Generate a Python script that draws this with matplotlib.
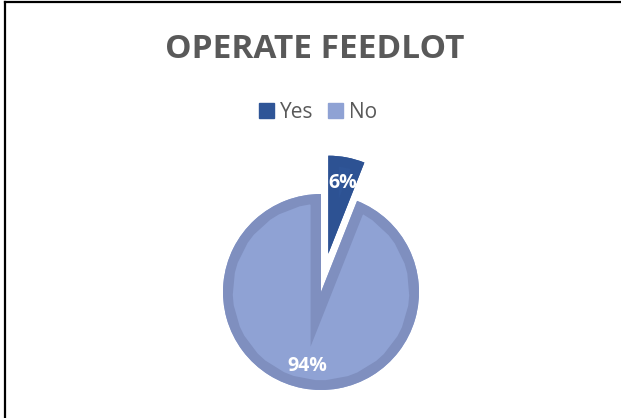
import matplotlib.pyplot as plt

# share of operations running a feedlot
answers = ["Yes", "No"]
shares = [6, 94]

fill_colours = ["#2F5597", "#8FA2D4"]
rim_colours = ["#2D5293", "#7F8FBF"]

W, H = 621, 418
fig = plt.figure(figsize=(W / 100, H / 100), dpi=100)
ax = fig.add_axes([0, 0, 1, 1])

centre = (321, H - 292)
radius = 98

wedges, _, pct_texts = ax.pie(
    shares,
    colors=fill_colours,
    explode=[39, 0],  # pie() takes explode in data units here
    startangle=90,
    counterclock=False,
    center=centre,
    radius=radius,
    autopct="%1.0f%%",
    pctdistance=0.77,
    wedgeprops=dict(linewidth=0),
    textprops=dict(color="white", fontsize=14, fontweight="bold", family="Open Sans"),
)
# nudge the small slice's label a little lower inside its wedge
x, y = pct_texts[0].get_position()
pct_texts[0].set_position((x, y - 3))

# inner rim: a thick edge clipped to the wedge itself
for w, rim in zip(wedges, rim_colours):
    ring = plt.Polygon(w.get_path().vertices, closed=True, transform=w.get_transform(),
                       facecolor="none", edgecolor=rim, linewidth=15)
    ax.add_patch(ring)
    ring.set_clip_path(w)

ax.set_xlim(0, W)
ax.set_ylim(0, H)
ax.set_aspect("equal")
ax.axis("off")

fig.text(0.506, 1 - 50 / H, "OPERATE FEEDLOT", ha="center", va="center",
         fontsize=24, fontweight="bold", color="#595959", family="Open Sans")

handles = [plt.Rectangle((0, 0), 1, 1, color=c) for c in fill_colours]
fig.legend(handles, answers, loc="center", bbox_to_anchor=(0.512, 1 - 112 / H), ncol=2,
           frameon=False, handlelength=0.7, handleheight=0.7, handletextpad=0.3,
           columnspacing=0.7, prop=dict(family="Open Sans", size=15),
           labelcolor="#595959")

# chart border (top and left edges)
fig.add_artist(plt.Line2D([5 / W, 5 / W], [0, 1 - 2 / H], color="black", linewidth=1.6,
                          transform=fig.transFigure))
fig.add_artist(plt.Line2D([5 / W, 1], [1 - 2 / H, 1 - 2 / H], color="black", linewidth=1.6,
                          transform=fig.transFigure))

fig.savefig("out.png", dpi=100)
